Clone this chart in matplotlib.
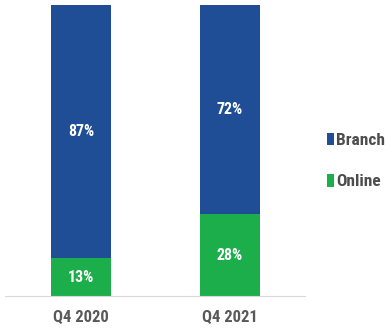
import matplotlib
matplotlib.use('Agg')
import matplotlib.pyplot as plt

quarters = ['Q4 2020', 'Q4 2021']
branch = [87, 72]
online = [13, 28]

blue = '#1F4E96'
green = '#1BAE4B'
grey = '#595959'

plt.rcParams['font.family'] = ['Roboto Condensed', 'Archivo Narrow', 'DejaVu Sans']

fig = plt.figure(figsize=(3.86, 3.34), dpi=100)
ax = fig.add_axes([0.013, 0.114, 0.777, 0.871])

x = range(len(quarters))
ax.bar(x, online, width=0.4, color=green, label='Online')
ax.bar(x, branch, width=0.4, bottom=online, color=blue, label='Branch')

for i in x:
    ax.text(i, online[i] / 2, f'{online[i]}%', ha='center', va='center',
            color='white', fontsize=11.5, fontweight='bold')
    ax.text(i, online[i] + branch[i] / 2, f'{branch[i]}%', ha='center', va='center',
            color='white', fontsize=11.5, fontweight='bold')

ax.set_xlim(-0.51, 1.503)
ax.set_ylim(0, 100)
ax.set_xticks(list(x))
ax.set_xticklabels(quarters, fontsize=12, fontweight='bold', color=grey)
ax.tick_params(axis='x', length=0, pad=10)
ax.set_yticks([])
for s in ['top', 'left', 'right']:
    ax.spines[s].set_visible(False)
ax.spines['bottom'].set_color('#D9D9D9')

handles, labels = ax.get_legend_handles_labels()
leg = fig.legend(handles[::-1], labels[::-1], loc='center left', bbox_to_anchor=(0.846, 0.518),
                 frameon=False, handlelength=0.45, handleheight=0.75, handletextpad=0.12,
                 labelspacing=1.5, borderaxespad=0, borderpad=0,
                 prop={'size': 12.5, 'weight': 'bold'})
for t in leg.get_texts():
    t.set_color('#4D4D4D')

fig.savefig('out.png', dpi=100)
